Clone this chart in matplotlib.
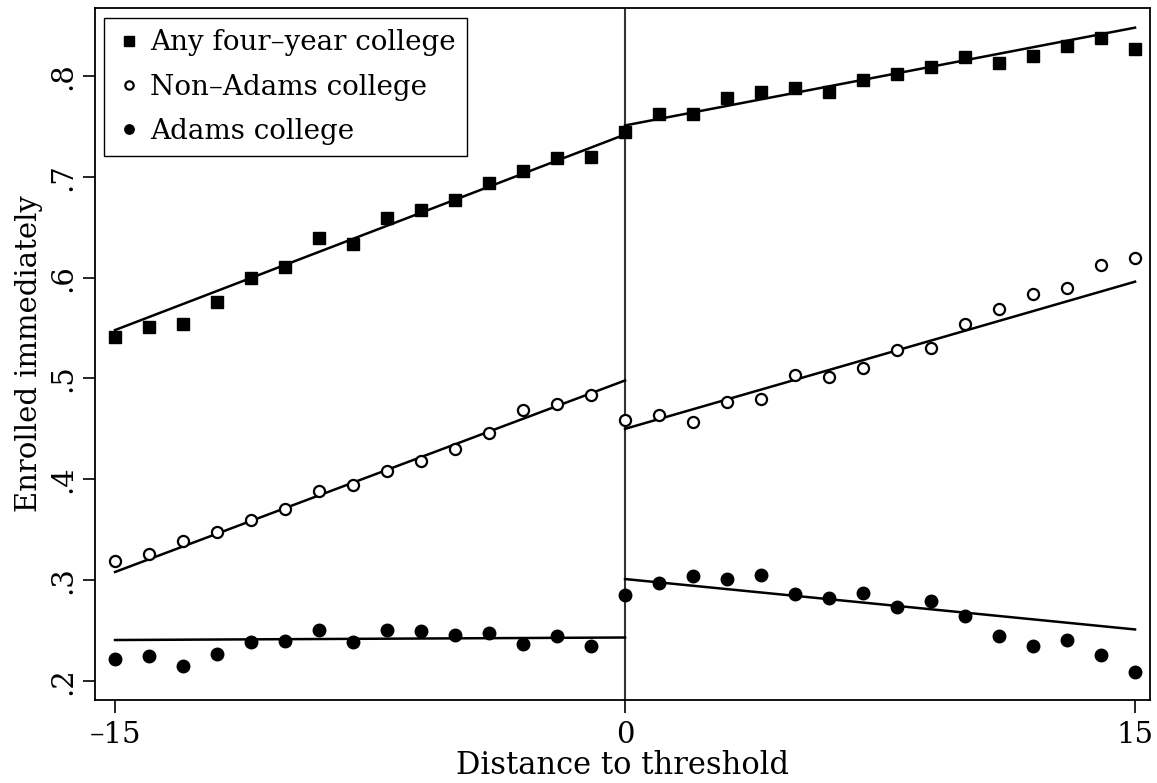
import numpy as np
import matplotlib
matplotlib.use("Agg")
import matplotlib.pyplot as plt

plt.rcParams['font.family'] = ['DejaVu Serif']

# distance to threshold (bins)
dist = list(range(-15, 16))

# binned means
any_four = [0.541, 0.551, 0.554, 0.576, 0.600, 0.611, 0.639, 0.633, 0.659, 0.667,
            0.677, 0.694, 0.706, 0.719, 0.720, 0.744, 0.762, 0.762, 0.778, 0.784,
            0.788, 0.784, 0.796, 0.802, 0.809, 0.819, 0.813, 0.820, 0.830, 0.838, 0.827]
non_adams = [0.319, 0.326, 0.339, 0.348, 0.360, 0.370, 0.388, 0.394, 0.408, 0.418,
             0.430, 0.446, 0.469, 0.475, 0.484, 0.459, 0.464, 0.457, 0.477, 0.480,
             0.503, 0.501, 0.510, 0.528, 0.530, 0.554, 0.569, 0.584, 0.590, 0.613, 0.619]
adams = [0.222, 0.225, 0.215, 0.227, 0.239, 0.240, 0.250, 0.239, 0.250, 0.249,
         0.245, 0.247, 0.237, 0.244, 0.235, 0.285, 0.297, 0.304, 0.301, 0.305,
         0.286, 0.282, 0.287, 0.273, 0.279, 0.264, 0.244, 0.235, 0.241, 0.226, 0.209]

# fitted lines: endpoints on each side of the threshold
fit_x_left = [-15, 0]
fit_x_right = [0, 15]
any_fit_left = [0.548, 0.742]
any_fit_right = [0.751, 0.848]
non_fit_left = [0.308, 0.498]
non_fit_right = [0.450, 0.596]
adams_fit_left = [0.2405, 0.243]
adams_fit_right = [0.301, 0.251]

fig = plt.figure(figsize=(11.57, 7.83), dpi=100)
W, H = 1157, 783
ax = fig.add_axes([95 / W, (H - 700) / H, (1150 - 95) / W, (700 - 8) / H])

ax.axvline(0, color='#333333', lw=1.5, zorder=1)

for fl, fr in [(any_fit_left, any_fit_right), (non_fit_left, non_fit_right),
               (adams_fit_left, adams_fit_right)]:
    ax.plot(fit_x_left, fl, color='black', lw=1.8, zorder=2)
    ax.plot(fit_x_right, fr, color='black', lw=1.8, zorder=2)

ax.plot(dist, any_four, ls='none', marker='s', ms=9, color='black',
        label='Any four\u2013year college', zorder=3)
ax.plot(dist, non_adams, ls='none', marker='o', ms=8, mfc='white', mec='black',
        mew=1.6, label='Non\u2013Adams college', zorder=3)
ax.plot(dist, adams, ls='none', marker='o', ms=9, color='black',
        label='Adams college', zorder=3)

ax.set_xlim(-15.59, 15.44)
ax.set_ylim(0.181, 0.8675)
ax.set_xticks([-15, 0, 15])
ax.set_xticklabels(['\u201315', '0', '15'])
yt = [0.2, 0.3, 0.4, 0.5, 0.6, 0.7, 0.8]
ax.set_yticks(yt)
ax.set_yticklabels(['.2', '.3', '.4', '.5', '.6', '.7', '.8'], rotation=90, va='center')
ax.tick_params(direction='out', length=9, width=1.2, labelsize=21, pad=4)
ax.tick_params(axis='x', pad=6)

for s in ax.spines.values():
    s.set_linewidth(1.3)

ax.set_xlabel('Distance to threshold', fontsize=22, labelpad=1)
ax.set_ylabel('Enrolled immediately', fontsize=21, labelpad=4)

leg = ax.legend(loc='upper left', fontsize=20, frameon=True, fancybox=False,
                edgecolor='black', framealpha=1, borderpad=0.4, handletextpad=0.25,
                labelspacing=0.62, handlelength=1.0, markerscale=0.75,
                bbox_to_anchor=(0.009, 0.985), borderaxespad=0)
leg.get_frame().set_linewidth(1.0)

fig.savefig('out.png', dpi=100)
